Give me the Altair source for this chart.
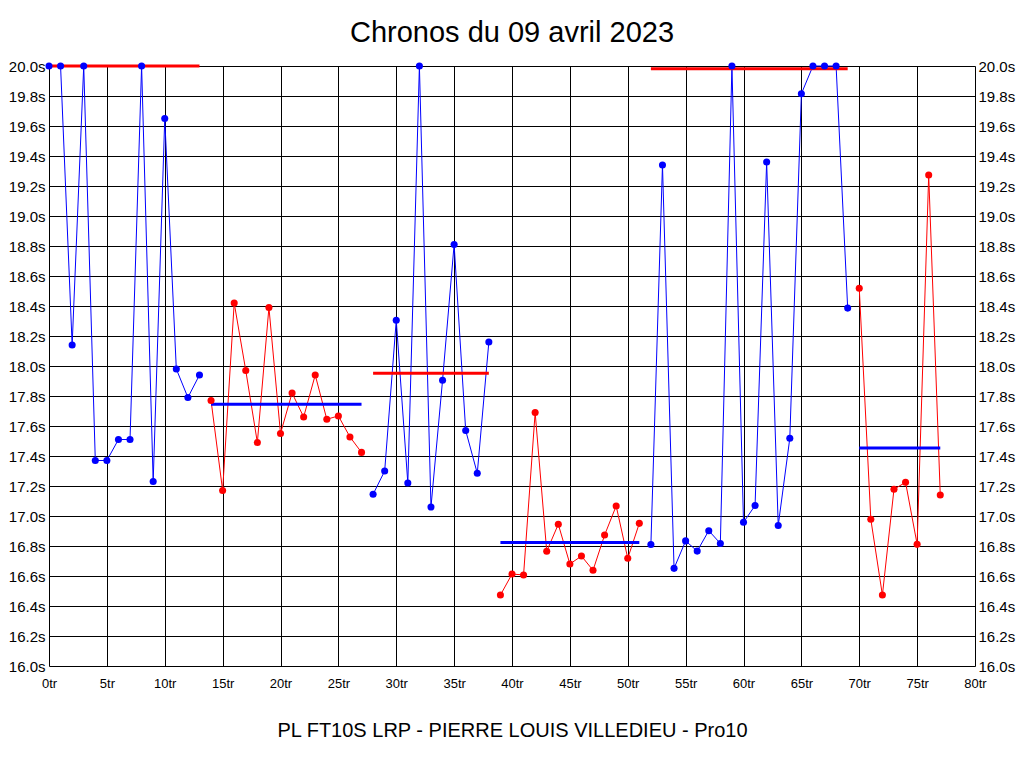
import altair as alt
import pandas as pd

# Lap times (seconds), one per lap index 0..77
times = [
    20.0, 20.0, 18.14, 20.0, 17.37, 17.37, 17.51, 17.51, 20.0, 17.23,
    19.65, 17.98, 17.79, 17.94,
    17.77, 17.17, 18.42, 17.97, 17.49, 18.39, 17.55, 17.82, 17.66, 17.94,
    17.645, 17.667, 17.527, 17.424,
    17.145, 17.30, 18.305, 17.22, 20.0, 17.06, 17.905, 18.81, 17.57, 17.285,
    18.16,
    16.473, 16.613, 16.607, 17.69, 16.765, 16.945, 16.68, 16.733, 16.638,
    16.873, 17.067, 16.718, 16.951,
    16.81, 19.34, 16.651, 16.834, 16.766, 16.902, 16.817, 20.0, 16.958, 17.07,
    19.36, 16.937, 17.518, 19.815, 20.0, 20.0, 20.0, 18.386,
    18.518, 16.978, 16.473, 17.178, 17.225, 16.811, 19.273, 17.14,
]

# Session segments
seg_starts = [0, 14, 28, 39, 52, 70]
seg_ends = [13, 27, 38, 51, 69, 77]
seg_colors = ["blue", "red", "blue", "red", "blue", "red"]
mean_colors = ["red", "blue", "red", "blue", "red", "blue"]
mean_values = [20.0, 17.745, 17.951, 16.824, 19.981, 17.453]

x_ticks = [0, 5, 10, 15, 20, 25, 30, 35, 40, 45, 50, 55, 60, 65, 70, 75, 80]
y_ticks = [16.0, 16.2, 16.4, 16.6, 16.8, 17.0, 17.2, 17.4, 17.6, 17.8, 18.0,
           18.2, 18.4, 18.6, 18.8, 19.0, 19.2, 19.4, 19.6, 19.8, 20.0]

title_text = "Chronos du 09 avril 2023"
bottom_text = "PL FT10S LRP - PIERRE LOUIS VILLEDIEU - Pro10"

rows = []
for s, (a, b) in enumerate(zip(seg_starts, seg_ends)):
    for i in range(a, b + 1):
        rows.append({"lap": i, "t": times[i], "seg": s, "col": seg_colors[s]})
pts = pd.DataFrame(rows)

means = pd.DataFrame({
    "x": seg_starts, "x2": seg_ends, "m": mean_values, "col": mean_colors,
})

FONT = "Liberation Sans"
xscale = alt.Scale(domain=[0, 80], nice=False, zero=False)
yscale = alt.Scale(domain=[16.0, 20.0], nice=False, zero=False)

x_axis = alt.Axis(values=x_ticks, labelExpr="datum.value + 'tr'", grid=True,
                  gridColor="black", gridOpacity=1, gridWidth=1,
                  ticks=False, domain=False, labelFont=FONT, labelFontSize=13,
                  labelColor="black", labelPadding=11, labelFlush=False,
                  title=bottom_text, titleFont=FONT, titleFontSize=20,
                  titleFontWeight="normal", titleColor="black", titlePadding=30)
y_axis_left = alt.Axis(values=y_ticks, labelExpr="format(datum.value, '.1f') + 's'",
                       grid=True, gridColor="black", gridOpacity=1, gridWidth=1,
                       ticks=False, domain=False, labelFont=FONT, labelFontSize=15,
                       labelColor="black", labelPadding=4, title=None, orient="left")
y_axis_right = alt.Axis(values=y_ticks, labelExpr="format(datum.value, '.1f') + 's'",
                        grid=False, ticks=False, domain=False, labelFont=FONT,
                        labelFontSize=15, labelColor="black", labelPadding=3,
                        title=None, orient="right")

base = alt.Chart(pts)

lines = base.mark_line(strokeWidth=1, interpolate="linear").encode(
    x=alt.X("lap:Q", scale=xscale, axis=x_axis),
    y=alt.Y("t:Q", scale=yscale, axis=y_axis_left),
    detail="seg:N",
    color=alt.Color("col:N", scale=None),
)

rules = alt.Chart(means).mark_rule(strokeWidth=3).encode(
    x=alt.X("x:Q", scale=xscale),
    x2="x2:Q",
    y=alt.Y("m:Q", scale=yscale, axis=None),
    color=alt.Color("col:N", scale=None),
)

points = base.mark_circle(size=50, opacity=1).encode(
    x=alt.X("lap:Q", scale=xscale),
    y=alt.Y("t:Q", scale=yscale, axis=y_axis_right),
    color=alt.Color("col:N", scale=None),
)

chart = alt.layer(lines, rules, points).resolve_scale(y="independent").properties(
    width=926,
    height=600,
    autosize=alt.AutoSizeParams(type="none"),
    padding={"left": 41, "top": 58, "right": 41, "bottom": 94},
    title=alt.TitleParams(title_text, font=FONT, fontSize=29, fontWeight="normal",
                          color="black", anchor="middle", offset=11),
).configure_view(stroke="black", strokeWidth=1).configure(background="white")

chart.save("out.html", embed_options={"renderer": "svg", "actions": False})
